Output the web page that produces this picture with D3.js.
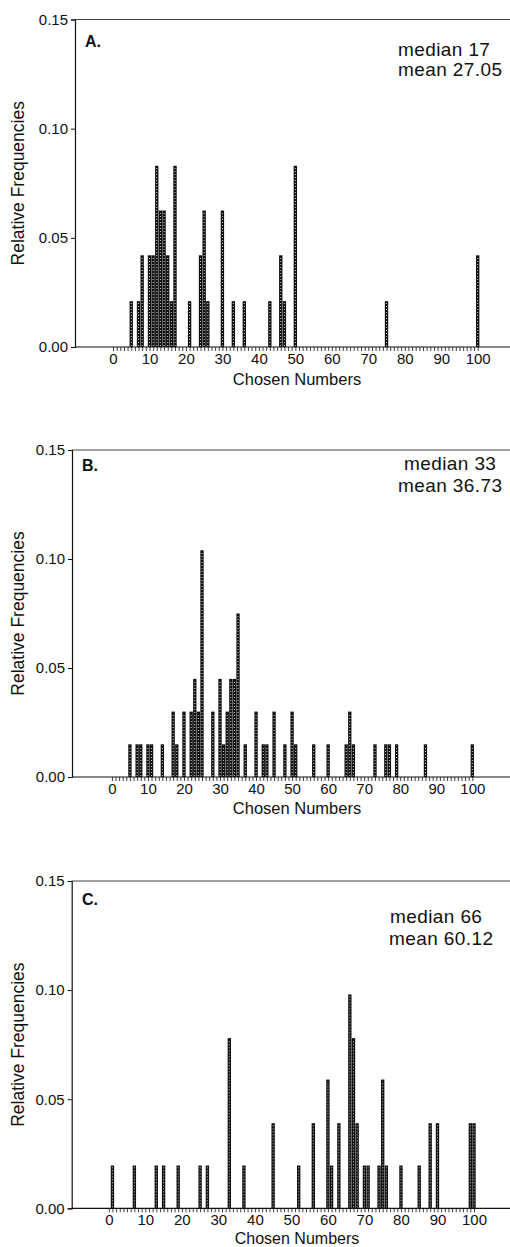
<!DOCTYPE html>
<html><head><meta charset="utf-8">
<script src="https://cdn.jsdelivr.net/npm/d3@7/dist/d3.min.js"></script>
<style>body{margin:0;background:#fff} svg{display:block}</style>
</head><body>
<svg id="chart" width="510" height="1247"></svg>
<script>
// Panel A
const numbersA = [5,7,8,10,11,12,13,14,15,16,17,21,24,25,26,30,33,36,43,46,47,50,75,100];
const freqsA   = [0.021,0.021,0.042,0.042,0.042,0.083,0.0625,0.0625,0.042,0.021,0.083,0.021,0.042,0.0625,0.021,0.0625,0.021,0.021,0.021,0.042,0.021,0.083,0.021,0.042];
// Panel B
const numbersB = [5,7,8,10,11,14,17,18,20,22,23,24,25,28,30,31,32,33,34,35,37,40,42,43,45,48,50,51,56,60,65,66,67,73,76,77,79,87,100];
const freqsB   = [0.015,0.015,0.015,0.015,0.015,0.015,0.030,0.015,0.030,0.030,0.045,0.030,0.104,0.030,0.045,0.015,0.030,0.045,0.045,0.075,0.015,0.030,0.015,0.015,0.030,0.015,0.030,0.015,0.015,0.015,0.015,0.030,0.015,0.015,0.015,0.015,0.015,0.015,0.015];
// Panel C
const numbersC = [1,7,13,15,19,25,27,33,37,45,52,56,60,61,63,66,67,68,70,71,74,75,76,80,85,88,90,99,100];
const freqsC   = [0.0196,0.0196,0.0196,0.0196,0.0196,0.0196,0.0196,0.078,0.0196,0.039,0.0196,0.039,0.059,0.0196,0.039,0.098,0.078,0.039,0.0196,0.0196,0.0196,0.059,0.0196,0.0196,0.0196,0.039,0.039,0.039,0.039];

const panelLabels = ["A.","B.","C."];
const medianTexts = ["median 17","median 33","median 66"];
const meanTexts = ["mean 27.05","mean 36.73","mean 60.12"];
const yTickValues = [0, 0.05, 0.10, 0.15];
const xTickLabels = [0,10,20,30,40,50,60,70,80,90,100];

const panels = [
  {nums:numbersA, fr:freqsA, top:19.5, bottom:347, axisX:75, x0:113, x100:477.7,
   lab:[85,46.5], med:[398,56], mean:[398,76], xt:385, xtSize:16.5},
  {nums:numbersB, fr:freqsB, top:450, bottom:777, axisX:72, x0:111.9, x100:472.3,
   lab:[82,471], med:[404,470], mean:[398,492], xt:814, xtSize:16.5},
  {nums:numbersC, fr:freqsC, top:881, bottom:1208.3, axisX:71.7, x0:108.8, x100:474,
   lab:[82,905], med:[390,923], mean:[389,945], xt:1243.5, xtSize:16}
];

const svg = d3.select("#chart");
const FONT = "'Liberation Sans', Arial, Helvetica, sans-serif";
const INK = "#111";

panels.forEach((p, i) => {
  const g = svg.append("g");
  const x = d3.scaleLinear().domain([0,100]).range([p.x0, p.x100]);
  const y = d3.scaleLinear().domain([0,0.15]).range([p.bottom, p.top]);
  const unit = x(1) - x(0);

  // top frame line
  g.append("line").attr("x1", p.axisX).attr("x2", 510).attr("y1", y(0.15)).attr("y2", y(0.15))
    .attr("stroke", "#444").attr("stroke-width", 1);

  // bars
  const data = p.nums.map((n, k) => ({n, f: p.fr[k]}));
  const bw = unit * 0.92;
  g.selectAll("rect.bar").data(data).join("rect").attr("class","bar")
    .attr("x", d => x(d.n) - bw/2).attr("width", bw)
    .attr("y", d => y(d.f)).attr("height", d => y(0) - y(d.f))
    .attr("fill", INK);
  g.selectAll("line.dots").data(data).join("line").attr("class","dots")
    .attr("x1", d => x(d.n)).attr("x2", d => x(d.n))
    .attr("y1", d => y(0) - 1).attr("y2", d => y(d.f) + 1.5)
    .attr("stroke", "#fff").attr("stroke-width", 0.9).attr("stroke-dasharray", "0.9,2.1");

  // y axis
  const ya = d3.axisLeft(y).tickValues(yTickValues).tickFormat(d3.format(".2f")).tickSize(4).tickPadding(3);
  const yg = g.append("g").attr("transform", `translate(${p.axisX},0)`).call(ya);
  yg.select(".domain").attr("stroke", INK).attr("stroke-width", 1.2);
  yg.selectAll(".tick line").attr("stroke", INK);
  yg.selectAll("text").attr("font-family", FONT).attr("font-size", 15).attr("fill", INK);

  // x axis
  const xa = d3.axisBottom(x).tickValues(d3.range(0, 101)).tickSize(4)
    .tickFormat(d => xTickLabels.includes(d) ? d : "").tickPadding(2);
  const xg = g.append("g").attr("transform", `translate(0,${p.bottom})`).call(xa);
  xg.select(".domain").remove();
  xg.selectAll(".tick line").attr("stroke", INK).attr("stroke-width", 0.8);
  xg.selectAll("text").attr("font-family", FONT).attr("font-size", 15).attr("fill", INK);
  g.append("line").attr("x1", p.axisX).attr("x2", 510).attr("y1", p.bottom).attr("y2", p.bottom)
    .attr("stroke", INK).attr("stroke-width", 1.2);

  // titles
  g.append("text").attr("x", 297).attr("y", p.xt).attr("text-anchor", "middle")
    .attr("font-family", FONT).attr("font-size", p.xtSize).attr("fill", INK).text("Chosen Numbers");
  const cy = (p.top + p.bottom) / 2;
  g.append("text").attr("transform", `translate(24,${cy}) rotate(-90)`).attr("text-anchor", "middle")
    .attr("font-family", FONT).attr("font-size", 17.5).attr("fill", INK).text("Relative Frequencies");

  g.append("text").attr("x", p.lab[0]).attr("y", p.lab[1]).attr("font-family", FONT)
    .attr("font-weight", "bold").attr("font-size", 16).attr("fill", INK).text(panelLabels[i]);
  g.append("text").attr("x", p.med[0]).attr("y", p.med[1]).attr("font-family", FONT)
    .attr("font-size", 19).attr("letter-spacing", 0.4).attr("fill", INK).text(medianTexts[i]);
  g.append("text").attr("x", p.mean[0]).attr("y", p.mean[1]).attr("font-family", FONT)
    .attr("font-size", 19).attr("letter-spacing", 0.4).attr("fill", INK).text(meanTexts[i]);
});
</script>
</body></html>
